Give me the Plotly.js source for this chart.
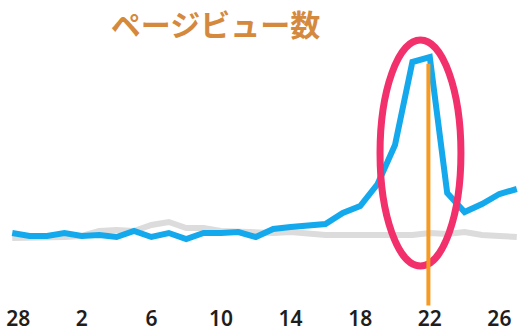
<!DOCTYPE html>
<html>
<head>
<meta charset="utf-8">
<script src="https://cdn.plot.ly/plotly-3.0.1.min.js"></script>
<style>html,body{margin:0;padding:0;background:#fff;}#chart{width:527px;height:335px;}</style>
</head>
<body>
<div id="chart"></div>
<script>
// Days (index 0 = 28th of previous month, 30-day month)
const dayIndex = [0,1,2,3,4,5,6,7,8,9,10,11,12,13,14,15,16,17,18,19,20,21,22,23,24,25,26,27,28,29];
const pageViews = [120,90,90,120,90,100,80,140,80,120,60,120,120,130,80,160,180,190,210,320,390,610,1000,1830,1880,520,330,410,510,560];
const pageViewsPrev = [70,70,70,80,90,140,150,140,200,230,170,170,140,130,120,120,130,110,100,100,100,90,90,100,120,110,130,100,90,80];
const tickIdx = [0.35,4,8,12,16,20,24,28]; // first label nudged inward so it stays on the page
const tickLabels = ["28","2","6","10","14","18","22","26"];
const titleText = "ページビュー数";
const markerDay = 24;            // highlighted day (22)
const ellipseX = [21.14, 25.79]; // highlight ellipse extent (days)
const ellipseY = [-210, 2050];   // highlight ellipse extent (views)

const traces = [
  {x: dayIndex, y: pageViewsPrev, type: 'scatter', mode: 'lines',
   line: {color: '#dcdcdc', width: 6, shape: 'linear'}, hoverinfo: 'skip'},
  {x: dayIndex, y: pageViews, type: 'scatter', mode: 'lines',
   line: {color: '#14a9ec', width: 6, shape: 'linear'}, hoverinfo: 'skip'}
];

const layout = {
  width: 527, height: 335,
  margin: {l: 7, r: 5, t: 30, b: 35},
  paper_bgcolor: '#ffffff', plot_bgcolor: '#ffffff',
  showlegend: false,
  title: {
    text: titleText,
    font: {family: '"Noto Sans CJK JP", "Noto Sans", sans-serif', size: 30, color: '#d4893d', weight: 700},
    x: 0.405, xanchor: 'center', xref: 'paper',
    y: 0.925, yanchor: 'middle', yref: 'container'
  },
  xaxis: {
    range: [-0.3, 29.3], showgrid: false, zeroline: false, showline: false,
    ticks: '', tickmode: 'array', tickvals: tickIdx, ticktext: tickLabels,
    tickfont: {family: '"Noto Sans", sans-serif', size: 21, color: '#1e1e1e', weight: 600},
    ticklabelstandoff: 4, ticklabeloverflow: 'allow'
  },
  yaxis: {
    range: [-550, 2150], showgrid: false, zeroline: false, showline: false,
    showticklabels: false, ticks: ''
  },
  shapes: [
    {type: 'circle', xref: 'x', yref: 'y', x0: ellipseX[0], x1: ellipseX[1], y0: ellipseY[0], y1: ellipseY[1],
     line: {color: '#f2306c', width: 7}, layer: 'above'},
    {type: 'line', xref: 'x', yref: 'paper', x0: markerDay - 0.08, x1: markerDay - 0.08,
     y0: -0.02, y1: 0.875, line: {color: '#f79a22', width: 4}, layer: 'above'}
  ]
};

Plotly.newPlot('chart', traces, layout, {displayModeBar: false, staticPlot: true});
</script>
</body>
</html>
